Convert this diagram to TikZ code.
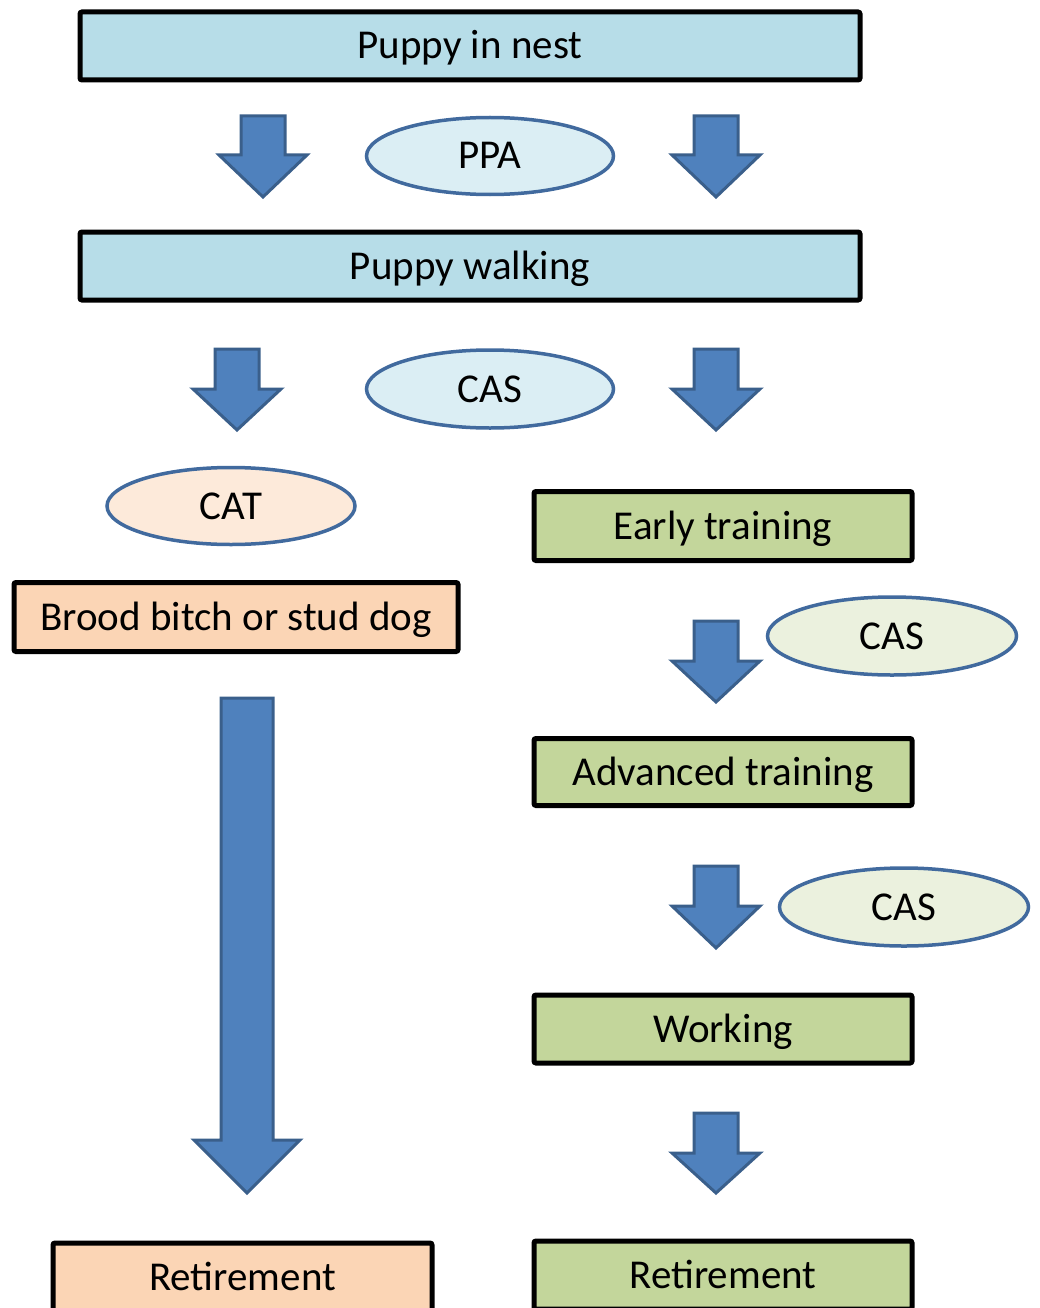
\documentclass[tikz,border=0pt]{standalone}
\usepackage{fontspec}
\setmainfont{Carlito}
\usetikzlibrary{shapes.geometric}

\definecolor{boxblue}{HTML}{B7DDE8}
\definecolor{ellblue}{HTML}{DBEEF4}
\definecolor{boxpeach}{HTML}{FBD5B5}
\definecolor{ellpeach}{HTML}{FDEADA}
\definecolor{boxgreen}{HTML}{C3D69B}
\definecolor{ellgreen}{HTML}{EBF1DE}
\definecolor{ellline}{HTML}{416A9E}
\definecolor{arrowfill}{HTML}{4F81BD}
\definecolor{arrowline}{HTML}{3A5F8B}

\tikzset{
  stagebox/.style={draw=black, line width=5pt, rounded corners=2pt, inner sep=0pt,
    minimum height=68pt, text height=26pt, text depth=0pt},
  checkell/.style={ellipse, draw=ellline, line width=3.5pt, inner sep=0pt,
    minimum width=247pt, minimum height=77pt, text height=26pt, text depth=0pt},
  blockarrow/.style={fill=arrowfill, draw=arrowline, line width=3pt, line join=miter}
}

% x, top, head base, tip, half shaft, half head
\newcommand{\blockarrow}[6]{%
  \draw[blockarrow] (#1-#5,#2) -- (#1+#5,#2) -- (#1+#5,#3) -- (#1+#6,#3)
    -- (#1,#4) -- (#1-#6,#3) -- (#1-#5,#3) -- cycle;}

\begin{document}
\begin{tikzpicture}[x=1pt, y=-1pt, font=\fontsize{41}{49}\selectfont]

\useasboundingbox (0,0) rectangle (1039,1308);

\node[stagebox, fill=boxblue, minimum width=780pt] (nest) at (470,46) {Puppy in nest};
\node[checkell, fill=ellblue] (ppa) at (490,156) {PPA};
\node[stagebox, fill=boxblue, minimum width=780pt] (walk) at (470,266) {Puppy walking};
\node[checkell, fill=ellblue, minimum height=78pt] (cas1) at (490,389) {CAS};

\node[checkell, fill=ellpeach, minimum width=248pt] (cat) at (231,506) {CAT};
\node[stagebox, fill=boxpeach, minimum width=444pt, minimum height=69pt] (brood) at (236,617) {Brood bitch or stud dog};
\node[stagebox, fill=boxpeach, minimum width=379pt] (retL) at (242.5,1277) {Retirement};

\node[stagebox, fill=boxgreen, minimum width=378pt, minimum height=69pt] (early) at (723,526) {Early training};
\node[checkell, fill=ellgreen, minimum width=249pt, minimum height=78pt] (cas2) at (892,636) {CAS};
\node[stagebox, fill=boxgreen, minimum width=378pt, minimum height=67pt] (adv) at (723,772) {Advanced training};
\node[checkell, fill=ellgreen, minimum width=249pt, minimum height=78pt] (cas3) at (904,907) {CAS};
\node[stagebox, fill=boxgreen, minimum width=378pt] (work) at (723,1029) {Working};
\node[stagebox, fill=boxgreen, minimum width=378pt] (retR) at (723,1275) {Retirement};

\blockarrow{263}{116}{155}{197}{22}{44}
\blockarrow{716}{116}{155}{197}{22}{44}
\blockarrow{237}{349}{389}{430}{22}{44}
\blockarrow{716}{349}{389}{430}{22}{44}
\blockarrow{716}{621}{661}{702}{22}{44}
\blockarrow{716}{866}{906}{948}{22}{44}
\blockarrow{716}{1113}{1153}{1193}{22}{44}
\blockarrow{247}{698}{1140}{1193}{26}{53}

\end{tikzpicture}
\end{document}
